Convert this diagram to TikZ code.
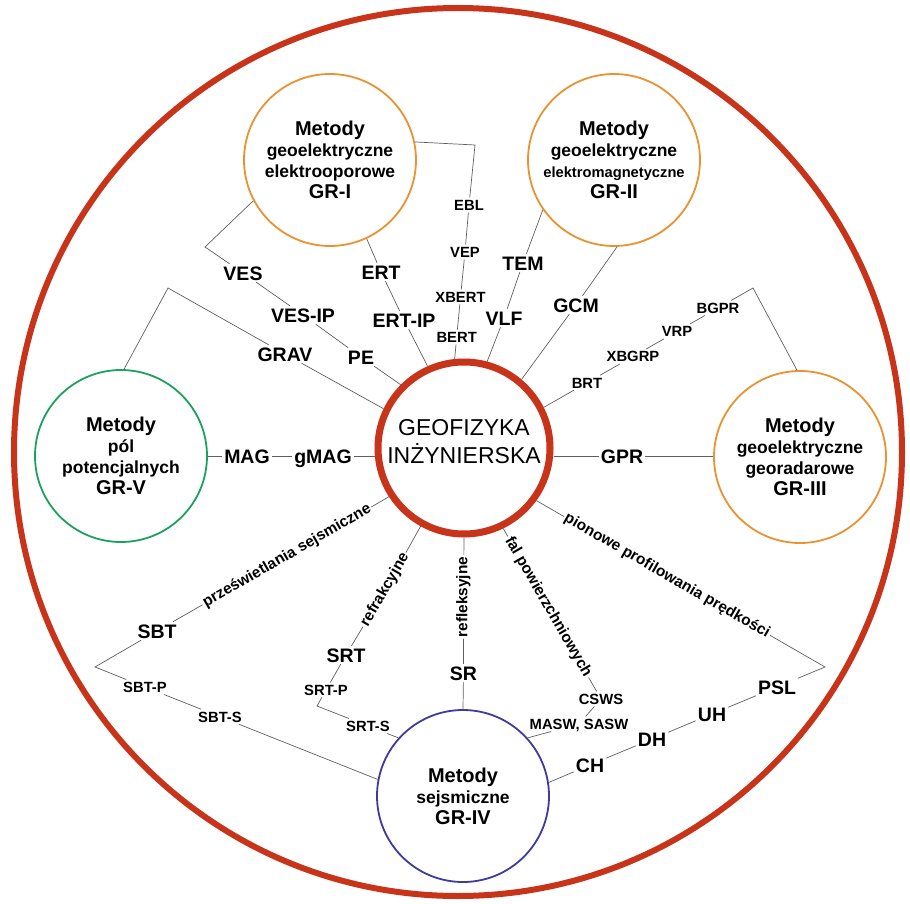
\documentclass[tikz,border=0pt]{standalone}
\usepackage{fontspec}
\setmainfont{Liberation Sans}
\definecolor{redc}{RGB}{200,52,26}
\definecolor{grorange}{RGB}{234,146,48}
\definecolor{grgreen}{RGB}{30,160,95}
\definecolor{grblue}{RGB}{62,58,158}
\definecolor{lnkc}{RGB}{95,95,95}
\newcommand\grtitle{\fontsize{20}{21}\selectfont}
\begin{document}
\begin{tikzpicture}[x=1pt,y=-1pt,
  lnk/.style={draw=lnkc, line width=0.7pt},
  lbig/.style={font=\fontsize{19.5}{20}\selectfont\bfseries, inner sep=2pt, text height=14pt, text depth=0pt},
  lsml/.style={font=\fontsize{14.8}{16}\selectfont\bfseries, inner sep=2pt, text height=10.6pt, text depth=0pt},
  lrot/.style={font=\fontsize{15.4}{16}\selectfont\bfseries, inner sep=1.5pt},
  grp/.style={circle, draw=grorange, line width=1.8pt, minimum size=172pt, inner sep=0pt,
    align=center, font=\fontsize{17.5}{21}\selectfont\bfseries},
]
\useasboundingbox (0,0) rectangle (910,904);

% outer circle
\node[circle, draw=redc, line width=6pt, minimum size=888pt, inner sep=0pt] (outer) at (458,452) {};

% central circle
\node[circle, draw=redc, line width=7pt, minimum size=172pt, inner sep=0pt] (geo) at (464,448) {};
\node[align=center, font=\fontsize{23}{28}\selectfont, inner sep=0pt] (geotxt) at (464,442) {GEOFIZYKA\\INŻYNIERSKA};

% group circles
\node[grp] (gr1) at (330,160) {{\grtitle Metody}\\geoelektryczne\\elektrooporowe\\{\grtitle GR-I}};
\node[grp] (gr2) at (614,160) {{\grtitle Metody}\\geoelektryczne\\{\fontsize{14.7}{21}\selectfont elektromagnetyczne}\\{\grtitle GR-II}};
\node[grp] (gr3) at (800,457) {{\grtitle Metody}\\geoelektryczne\\georadarowe\\{\grtitle GR-III}};
\node[grp, draw=grblue] (gr4) at (463,796) {{\grtitle Metody}\\sejsmiczne\\{\grtitle GR-IV}};
\node[grp, draw=grgreen] (gr5) at (121,456) {{\grtitle Metody}\\pól\\potencjalnych\\{\grtitle GR-V}};

% bend points
\coordinate (a1) at (205,247);
\coordinate (c1) at (475,145);
\coordinate (f1) at (753,288);
\coordinate (i1) at (168,288);
\coordinate (j1) at (95,667);
\coordinate (k1) at (317,706);
\coordinate (n1) at (825,667);

% labels
\node[lbig] (ves) at (243,273) {VES};
\node[lbig] (vesip) at (303,315) {VES-IP};
\node[lbig] (pe) at (361,357) {PE};
\node[lbig] (ert) at (381,272) {ERT};
\node[lbig] (ertip) at (404,320) {ERT-IP};
\node[lsml] (ebl) at (469,205) {EBL};
\node[lsml] (vep) at (465,252) {VEP};
\node[lsml] (xbert) at (460.5,297) {XBERT};
\node[lsml] (bert) at (456.7,337) {BERT};
\node[lbig] (tem) at (523,263) {TEM};
\node[lbig] (vlf) at (504,318) {VLF};
\node[lbig] (gcm) at (576,305) {GCM};
\node[lsml] (bgpr) at (718,308) {BGPR};
\node[lsml] (vrp) at (677,331.4) {VRP};
\node[lsml] (xbgrp) at (633,356.5) {XBGRP};
\node[lsml] (brt) at (587,382.7) {BRT};
\node[lbig] (gpr) at (622,456) {GPR};
\node[lbig] (mag) at (247,456) {MAG};
\node[lbig] (gmag) at (323,456) {gMAG};
\node[lbig] (grav) at (285,354) {GRAV};
\node[lrot, rotate=30] (prz) at (287,556) {prześwietlania sejsmiczne};
\node[lbig] (sbt) at (157,631) {SBT};
\node[lsml] (sbtp) at (145,687) {SBT-P};
\node[lsml] (sbts) at (220,716.7) {SBT-S};
\node[lrot, rotate=60] (refr) at (385,590) {refrakcyjne};
\node[lbig] (srt) at (346,655) {SRT};
\node[lsml] (srtp) at (326,690) {SRT-P};
\node[lsml] (srts) at (368,726) {SRT-S};
\node[lrot, rotate=90] (refl) at (463.5,597) {refleksyjne};
\node[lbig] (sr) at (463.5,673) {SR};
\node[lrot, rotate=-60] (fal) at (548,607) {fal powierzchniowych};
\node[lsml] (csws) at (601,699) {CSWS};
\node[lsml] (masw) at (579,724) {MASW, SASW};
\node[lrot, rotate=-30] (pion) at (667,576) {pionowe profilowania prędkości};
\node[lbig] (psl) at (777,687) {PSL};
\node[lbig] (uh) at (712,714) {UH};
\node[lbig] (dh) at (652,739) {DH};
\node[lbig] (ch) at (590,765) {CH};

% connectors
\draw[lnk] (gr1.208) -- (a1) -- (ves) -- (vesip) -- (pe) -- (geo.135);
\draw[lnk] (gr1.295) -- (ert) -- (ertip) -- (geo.114);
\draw[lnk] (gr1.12) -- (c1) -- (ebl) -- (vep) -- (xbert) -- (bert) -- (geo.96);
\draw[lnk] (gr2.215) -- (tem) -- (vlf) -- (geo.75);
\draw[lnk] (gr2.272) -- (gcm) -- (geo.50);
\draw[lnk] (gr3.92) -- (f1) -- (bgpr) -- (vrp) -- (xbgrp) -- (brt) -- (geo.27);
\draw[lnk] (geo.east |- gpr) -- (gpr) -- (gpr -| gr3.west);
\draw[lnk] (gr5.east |- mag) -- (mag) -- (gmag) -- (gmag -| geo.west);
\draw[lnk] (gr5.88) -- (i1) -- (grav) -- (geo.154);
\draw[lnk] (geo.213) -- (prz) -- (sbt) -- (j1) -- (sbtp) -- (sbts) -- (gr4.169);
\draw[lnk] (geo.241) -- (refr) -- (srt) -- (srtp) -- (k1) -- (srts) -- (gr4.138);
\draw[lnk] (geo.south) -- (refl) -- (sr) -- (gr4.north);
\draw[lnk] (geo.296) -- (fal) -- (csws) -- (masw) -- (gr4.42);
\draw[lnk] (geo.324) -- (pion) -- (n1) -- (psl) -- (uh) -- (dh) -- (ch) -- (gr4.9);
\end{tikzpicture}
\end{document}
